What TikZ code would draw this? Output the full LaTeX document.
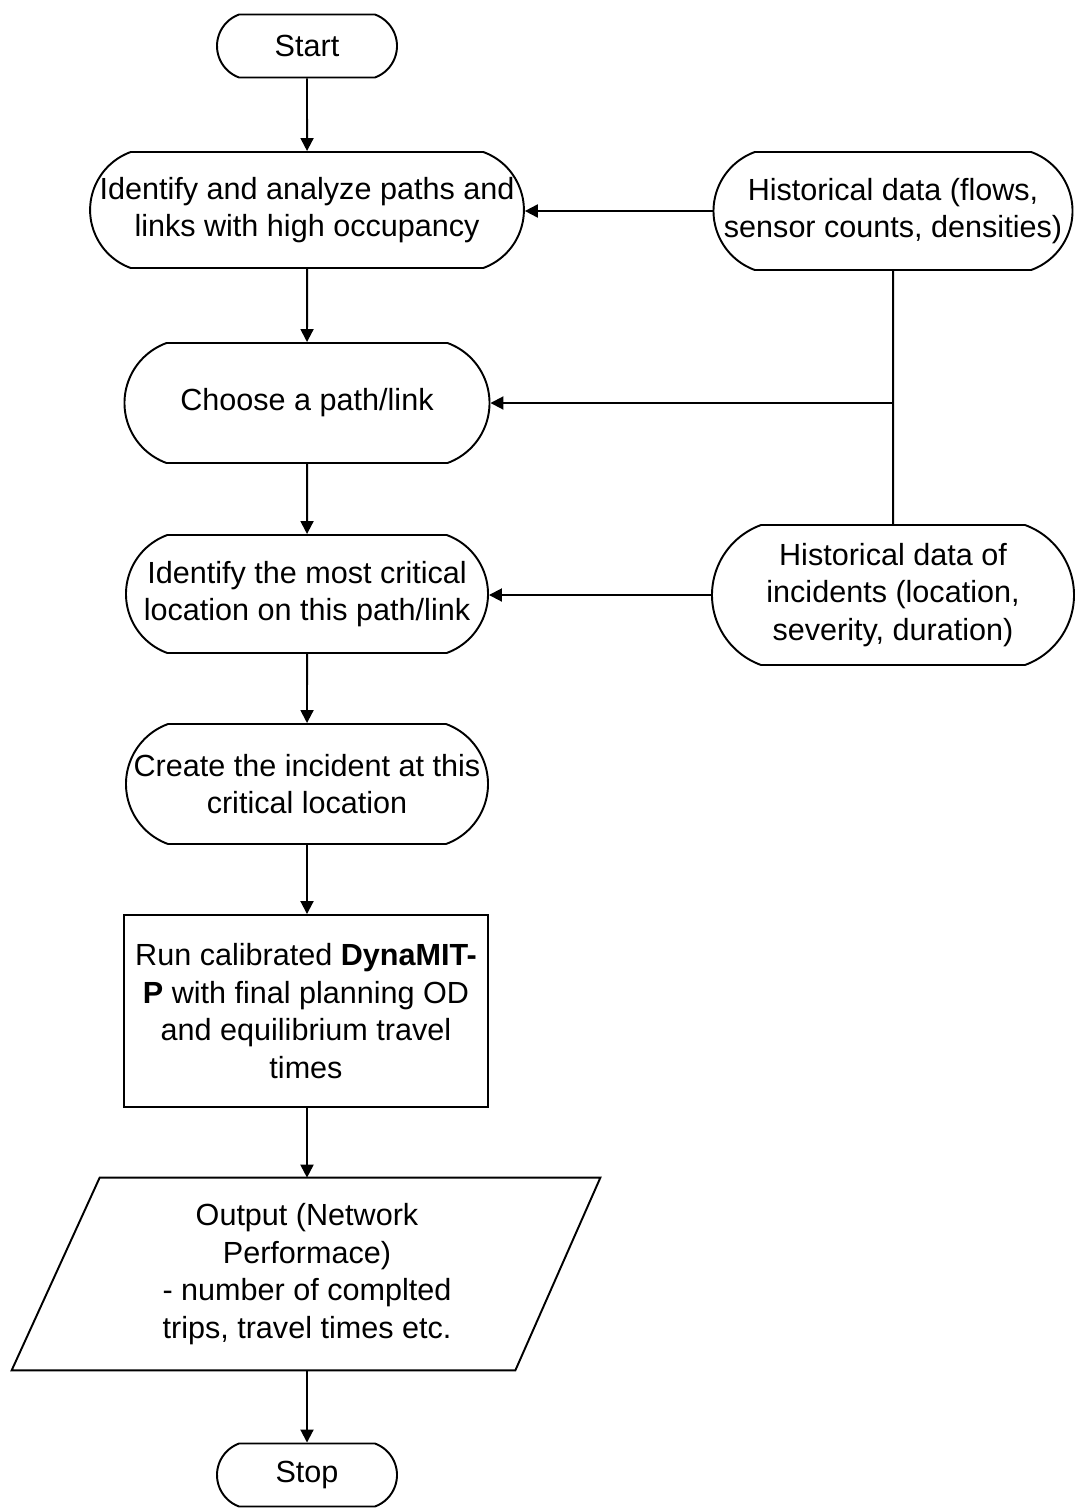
\documentclass[tikz,border=0pt]{standalone}
\usepackage{fontspec}
\setmainfont{Liberation Sans}
\usetikzlibrary{arrows.meta,shapes.misc,calc}
\tikzset{>={Triangle[length=7.4,width=7.4]}}

\begin{document}
\begin{tikzpicture}[x=0.02cm,y={(0,-0.02cm)},
    font=\fontsize{17.4}{21.3}\selectfont,
    arrow/.style={->,line width=1.1pt},
    term/.style={draw,line width=1.1pt,rounded rectangle,rounded rectangle arc length=140,align=center,inner sep=0pt},
    proc/.style={draw,line width=1.1pt,rectangle,align=center,inner sep=0pt},
    io/.style={rectangle,align=center,inner sep=0pt}]
    \useasboundingbox (0,0) rectangle (1077,1511);

    \node[term,minimum width=180*0.02cm,minimum height=63*0.02cm] (start) at (307,46) {Start};
    \node[term,minimum width=430*0.02cm,minimum height=116*0.02cm] (ident) at (307,210)
        {Identify and analyze paths and\\links with high occupancy};
    \node[term,minimum width=359*0.02cm,minimum height=118*0.02cm] (hist1) at (893,211)
        {Historical data (flows,\\sensor counts, densities)};
    \node[term,minimum width=365*0.02cm,minimum height=120*0.02cm] (choose) at (307,403) {Choose a path/link};
    \node[term,minimum width=362*0.02cm,minimum height=118*0.02cm] (crit) at (307,594)
        {Identify the most critical\\location on this path/link};
    \node[term,minimum width=362*0.02cm,minimum height=140*0.02cm] (hist2) at (893,595)
        {Historical data of\\incidents (location,\\severity, duration)};
    \node[term,minimum width=362*0.02cm,minimum height=120*0.02cm] (create) at (307,784)
        {Create the incident at this\\critical location};
    \node[proc,minimum width=364*0.02cm,minimum height=192*0.02cm] (run) at (306,1011)
        {Run calibrated \textbf{DynaMIT-}\\\textbf{P} with final planning OD\\and equilibrium travel\\times};
    \node[io,minimum width=500*0.02cm,minimum height=192*0.02cm] (out) at (307,1274)
        {Output (Network\\Performace)\\- number of complted\\trips, travel times etc.};
    \node[term,minimum width=180*0.02cm,minimum height=63*0.02cm] (stop) at (307,1475) {Stop};

    % parallelogram round the output text
    \draw[line width=1.1pt] ($(out.north west)+(43,0)$) -- ($(out.north east)+(43,0)$)
        -- ($(out.south east)+(-42,0)$) -- ($(out.south west)+(-45,0)$) -- cycle;

    \coordinate (join) at (893,403);

    \draw[arrow] (start) -- (ident);
    \draw[arrow] (ident) -- (choose);
    \draw[arrow] (choose) -- (crit);
    \draw[arrow] (crit) -- (create);
    \draw[arrow] (create) -- (create|-run.north);
    \draw[arrow] (run.south-|out) -- (out);
    \draw[arrow] (out) -- (stop);

    \draw[arrow] (hist1) -- (hist1-|ident.east);
    \draw[line width=1.1pt] (hist1) -- (hist2);
    \draw[arrow] (join) -- (choose);
    \draw[arrow] (hist2) -- (hist2-|crit.east);

    \end{tikzpicture}
\end{document}
